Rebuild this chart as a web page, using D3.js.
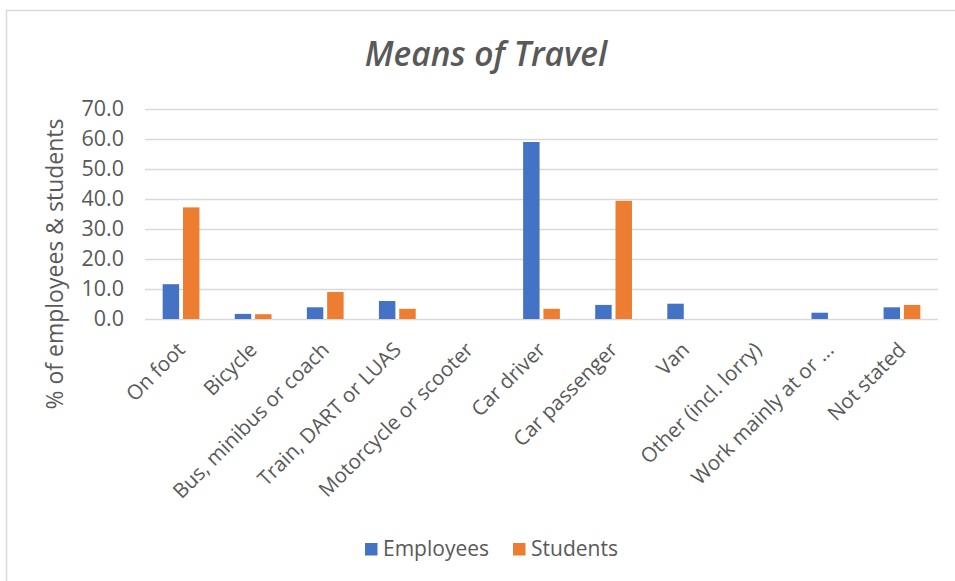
<!DOCTYPE html>
<html>
<head>
<meta charset="utf-8">
<script src="https://cdn.jsdelivr.net/npm/d3@7"></script>
<style>
  html, body { margin: 0; padding: 0; background: #fff; }
  svg { display: block; }
  text { font-family: "Open Sans", "Segoe UI", sans-serif; fill: #595959; }
</style>
</head>
<body>
<svg id="chart" width="955" height="581"></svg>
<script>
// Means of travel, % of employees and students
const categories = [
  "On foot", "Bicycle", "Bus, minibus or coach", "Train, DART or LUAS",
  "Motorcycle or scooter", "Car driver", "Car passenger", "Van",
  "Other (incl. lorry)", "Work mainly at or ...", "Not stated"
];
const employees = [11.6, 1.7, 3.9, 6.0, 0.0, 59.0, 4.7, 5.1, 0.0, 2.1, 3.9];
const students  = [37.2, 1.6, 9.0, 3.4, 0.0, 3.4, 39.4, 0.0, 0.0, 0.0, 4.7];
const seriesNames = ["Employees", "Students"];
const seriesColors = ["#4472C4", "#ED7D31"];
const yTicks = [0, 10, 20, 30, 40, 50, 60, 70];

const svg = d3.select("#chart");
const W = 955, H = 581;
const plot = { left: 145, right: 938, top: 109, bottom: 319 };

// Outer chart frame
svg.append("rect")
  .attr("x", 6.5).attr("y", 10.5)
  .attr("width", W + 20).attr("height", H + 20)
  .attr("fill", "#fff").attr("stroke", "#d9d9d9").attr("stroke-width", 1.5);

// Title
svg.append("text")
  .attr("x", 486).attr("y", 66)
  .attr("text-anchor", "middle")
  .style("font-size", "33.5px").style("font-style", "italic").style("font-weight", 600)
  .text("Means of Travel");

const x0 = d3.scaleBand().domain(categories).range([plot.left, plot.right]).paddingInner(0).paddingOuter(0);
const bw = x0.bandwidth();
const x1 = d3.scaleBand().domain(seriesNames).range([bw * 0.245, bw * 0.755]).paddingInner(0.19);
const y = d3.scaleLinear().domain([0, 70]).range([plot.bottom, plot.top]);

// Gridlines and value axis labels
const yAxis = d3.axisLeft(y).tickValues(yTicks).tickFormat(d3.format(".1f"))
  .tickSize(-(plot.right - plot.left)).tickPadding(21);
const gy = svg.append("g").attr("transform", `translate(${plot.left},0)`).call(yAxis);
gy.select(".domain").remove();
gy.selectAll(".tick line").attr("stroke", "#d9d9d9").attr("stroke-width", 1.5);
gy.selectAll(".tick text").style("font-size", "21.5px").attr("fill", "#595959")
  .style("font-family", "'Open Sans', sans-serif");

// Bars
const data = categories.map((c, i) => ({ c, vals: [employees[i], students[i]] }));
const groups = svg.append("g").selectAll("g").data(data).join("g")
  .attr("transform", d => `translate(${x0(d.c)},0)`);
groups.selectAll("rect")
  .data(d => d.vals.map((v, k) => ({ v, k })))
  .join("rect")
  .attr("x", d => x1(seriesNames[d.k]))
  .attr("width", x1.bandwidth())
  .attr("y", d => y(d.v))
  .attr("height", d => y(0) - y(d.v))
  .attr("fill", d => seriesColors[d.k]);

// Category labels, rotated
const xAxis = d3.axisBottom(x0).tickSize(0).tickPadding(0);
const gx = svg.append("g").attr("transform", `translate(0,${plot.bottom})`).call(xAxis);
gx.select(".domain").remove();
gx.selectAll(".tick text")
  .attr("text-anchor", "end")
  .attr("transform", "translate(0,27) rotate(-45)")
  .attr("x", 0).attr("y", 0).attr("dy", "0.35em")
  .style("font-size", "20.5px").attr("fill", "#595959")
  .style("font-family", "'Open Sans', sans-serif");

// Value axis title
svg.append("text")
  .attr("transform", "translate(63,264) rotate(-90)")
  .attr("text-anchor", "middle")
  .style("font-size", "23px")
  .text("% of employees & students");

// Legend
const legend = svg.append("g");
const legendItems = [{ x: 365, name: seriesNames[0], color: seriesColors[0] },
                     { x: 513, name: seriesNames[1], color: seriesColors[1] }];
legendItems.forEach(it => {
  legend.append("rect").attr("x", it.x).attr("y", 543).attr("width", 12.5).attr("height", 12.5).attr("fill", it.color);
  legend.append("text").attr("x", it.x + 18).attr("y", 549).attr("dy", "0.35em")
    .style("font-size", "21px").text(it.name);
});
</script>
</body>
</html>
